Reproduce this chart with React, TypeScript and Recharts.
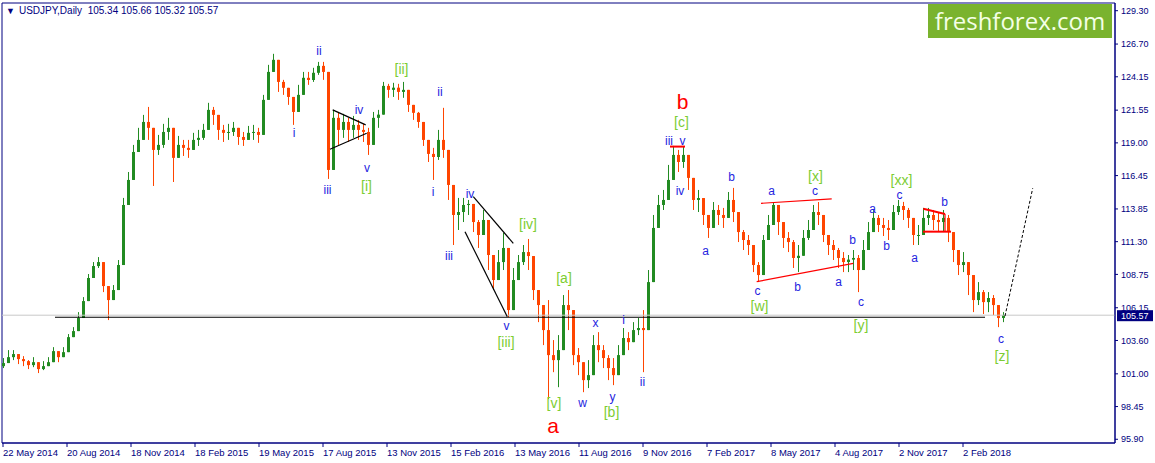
import {
  Bar,
  ComposedChart,
  ReferenceArea,
  ReferenceLine,
  Scatter,
  XAxis,
  YAxis,
} from "recharts";

// one bar = 5 trading days
const DAYS_PER_BAR = 5;
const FIRST_OPEN = 101.6;

const CLOSE = [
  101.84, 102.3, 102.54, 102.15, 101.99, 101.68, 101.91, 101.37, 101.6, 101.91,
  102.77, 102.3, 102.69, 103.86, 104.33, 105.35, 106.67, 108.47, 109.4, 109.71,
  107.84, 106.75, 107.53, 109.48, 114.16, 116.11, 118.29, 119.23, 120.63, 120.17,
  118.45, 118.84, 119.85, 120.17, 117.83, 118.84, 118.61, 118.45, 119.23, 119.39,
  120.01, 121.57, 121.18, 120.01, 119.78, 119.85, 120.17, 119.46, 119.23, 119.78,
  119.85, 119.62, 122.35, 124.53, 125.47, 123.75, 123.29, 122.58, 121.41, 122.74,
  124.07, 123.9, 124.46, 125.0, 124.53, 116.89, 120.95, 120.01, 120.63, 120.01,
  120.4, 120.01, 119.85, 118.84, 120.95, 121.2, 123.44, 123.13, 123.3, 122.97,
  123.13, 121.96, 121.34, 120.63, 119.23, 118.14, 117.9, 119.23, 118.45, 115.72,
  113.38, 113.61, 114.16, 114.24, 112.83, 111.82, 112.99, 110.26, 108.31, 109.71,
  110.81, 105.97, 108.31, 109.71, 110.49, 110.18, 107.53, 106.36, 104.41, 102.46,
  102.07, 102.85, 106.36, 105.97, 102.46, 101.91, 100.51, 100.9, 103.24, 102.85,
  102.23, 101.45, 100.9, 102.46, 103.79, 103.47, 104.41, 104.57, 104.41, 108.15,
  112.37, 114.16, 114.55, 116.11, 118.06, 117.51, 118.06, 116.27, 114.55, 114.7,
  113.38, 112.37, 113.77, 113.38, 113.15, 114.55, 113.61, 112.05, 111.43, 111.04,
  109.48, 108.7, 111.43, 112.6, 114.16, 112.83, 111.59, 111.27, 110.03, 110.2,
  111.59, 112.21, 113.61, 113.38, 111.82, 111.04, 110.65, 110.03, 109.71, 109.9,
  110.03, 109.09, 110.65, 112.05, 113.15, 112.6, 112.37, 112.21, 113.61, 114.08,
  113.77, 113.15, 111.82, 111.82, 113.15, 113.38, 112.99, 112.83, 113.15, 112.05,
  110.65, 109.48, 109.71, 108.7, 106.75, 107.37, 106.59, 106.91, 106.36, 105.35,
  105.57,
];

const HIGH = [
  102.23, 102.85, 102.85, 102.54, 102.38, 102.07, 102.3, 101.84, 101.99, 102.3,
  103.08, 102.77, 103.08, 104.1, 104.64, 105.81, 106.98, 108.78, 109.71, 110.1,
  108.62, 107.69, 107.92, 109.87, 114.71, 116.73, 118.84, 120.17, 121.18, 121.8,
  120.01, 119.62, 120.48, 120.95, 119.23, 119.54, 119.23, 119.23, 119.78, 120.01,
  120.48, 122.12, 121.8, 120.79, 120.4, 120.48, 120.63, 120.17, 119.85, 120.32,
  120.4, 120.17, 122.74, 125.08, 125.94, 124.85, 123.91, 123.29, 122.51, 123.52,
  124.53, 124.53, 124.85, 125.31, 125.31, 124.3, 121.57, 121.41, 121.26, 120.95,
  121.1, 120.79, 120.48, 120.17, 121.41, 121.57, 123.75, 123.6, 123.68, 123.6,
  123.75, 122.97, 121.96, 121.41, 120.63, 119.23, 118.61, 120.01, 121.73, 117.67,
  115.33, 114.71, 114.71, 114.55, 114.16, 112.99, 113.77, 112.37, 109.48, 110.65,
  111.98, 108.31, 109.25, 110.26, 111.04, 111.51, 109.09, 107.53, 106.36, 106.75,
  103.63, 104.02, 107.14, 107.53, 104.41, 103.01, 101.91, 102.07, 104.02, 104.25,
  103.24, 102.46, 102.23, 103.24, 104.57, 104.25, 105.03, 105.35, 105.97, 109.09,
  113.38, 114.94, 115.33, 117.28, 118.76, 118.45, 118.68, 117.67, 115.72, 115.33,
  114.55, 113.38, 114.39, 114.16, 113.93, 115.17, 115.49, 113.38, 112.21, 111.82,
  111.04, 109.71, 111.82, 113.38, 114.36, 114.16, 112.6, 112.05, 111.43, 111.04,
  112.21, 112.99, 114.16, 114.39, 113.38, 111.82, 111.43, 110.81, 110.49, 110.26,
  110.65, 110.26, 111.43, 112.83, 113.77, 113.38, 113.15, 112.99, 114.16, 114.55,
  114.4, 113.93, 112.83, 112.6, 113.93, 113.93, 113.77, 113.61, 113.77, 113.38,
  111.59, 110.49, 110.49, 109.71, 107.92, 108.15, 107.53, 107.37, 107.14, 106.36,
  105.81,
];

const LOW = [
  101.45, 101.91, 102.07, 101.76, 101.6, 101.37, 101.52, 101.06, 101.29, 101.6,
  102.3, 101.91, 102.3, 103.24, 103.94, 104.88, 106.2, 107.69, 108.93, 109.25,
  107.37, 105.19, 106.75, 108.15, 112.37, 115.17, 117.05, 118.29, 119.85, 119.23,
  115.64, 118.06, 118.61, 119.23, 115.95, 117.83, 117.98, 117.83, 118.45, 118.76,
  119.23, 120.63, 120.4, 119.23, 119.07, 119.23, 119.54, 118.84, 118.76, 119.23,
  119.23, 119.0, 120.4, 123.52, 124.69, 122.97, 122.74, 121.96, 120.4, 121.96,
  123.29, 123.52, 123.75, 124.3, 123.91, 116.19, 118.45, 118.84, 119.39, 119.07,
  119.39, 119.23, 119.07, 118.06, 119.62, 120.17, 121.57, 122.51, 122.58, 122.35,
  122.51, 121.41, 120.79, 120.17, 118.76, 117.51, 116.11, 117.67, 117.83, 114.55,
  111.04, 112.21, 112.83, 113.38, 112.05, 110.81, 112.05, 109.09, 107.53, 108.93,
  109.09, 105.42, 107.37, 108.7, 109.48, 109.09, 106.75, 105.03, 103.24, 99.03,
  101.13, 99.96, 103.63, 104.41, 101.68, 100.9, 99.57, 99.89, 101.68, 101.91,
  101.45, 100.51, 100.12, 101.45, 103.01, 102.85, 103.63, 104.02, 101.13, 105.97,
  110.26, 112.99, 113.77, 114.94, 117.05, 116.73, 117.05, 115.33, 113.77, 113.61,
  112.6, 111.59, 112.6, 112.6, 112.37, 113.61, 112.83, 111.27, 110.65, 110.26,
  108.93, 108.15, 109.48, 111.59, 112.99, 111.82, 110.81, 110.49, 109.25, 108.93,
  110.26, 111.43, 112.6, 112.6, 111.27, 110.26, 109.87, 109.25, 108.93, 108.93,
  109.09, 107.37, 109.48, 111.04, 112.21, 112.05, 111.74, 111.43, 112.83, 113.38,
  112.99, 112.37, 111.04, 111.04, 112.21, 112.6, 112.21, 112.05, 112.05, 111.27,
  109.71, 108.7, 108.93, 107.14, 105.81, 106.36, 105.66, 105.81, 105.58, 104.64,
  105.03,
];

const TICK_DAYS = [0, 64, 128, 192, 256, 320, 384, 448, 512, 576, 640, 704, 768, 832, 896, 960];
const TICK_LABELS = [
  "22 May 2014", "20 Aug 2014", "18 Nov 2014", "18 Feb 2015", "19 May 2015", "17 Aug 2015",
  "13 Nov 2015", "15 Feb 2016", "13 May 2016", "11 Aug 2016", "9 Nov 2016", "7 Feb 2017",
  "8 May 2017", "4 Aug 2017", "2 Nov 2017", "2 Feb 2018",
];
const PRICE_TICKS = [
  95.9, 98.45, 101.0, 103.6, 106.15, 108.75, 111.3, 113.85, 116.45, 119.0, 121.55, 124.15,
  126.7, 129.3,
];
const LAST_PRICE = 105.57;
const TITLE = "USDJPY,Daily  105.34 105.66 105.32 105.57";

// wave marks: [day, price, text]
const BLUE_MARKS: [number, number, string][] = [
  [291, 119.77, "i"], [316, 126.16, "ii"], [324.5, 115.33, "iii"], [356, 121.56, "iv"],
  [364, 117.04, "v"], [430, 115.17, "i"], [437, 122.96, "ii"], [446, 110.18, "iii"],
  [467, 115.01, "iv"], [503.5, 104.73, "v"], [592.5, 105.0, "x"], [579.5, 98.73, "w"],
  [609.5, 99.19, "y"], [620.5, 105.19, "i"], [639.5, 100.4, "ii"], [666, 119.14, "iii"],
  [679.5, 119.14, "v"], [677, 115.25, "iv"], [702.5, 110.57, "a"], [728.5, 116.34, "b"],
  [754.5, 107.49, "c"], [768.5, 115.21, "a"], [794.5, 107.8, "b"], [812, 115.25, "c"],
  [835.5, 108.19, "a"], [849.5, 111.43, "b"], [858, 106.56, "c"], [869.5, 113.88, "a"],
  [883.5, 111.0, "b"], [896.5, 114.93, "c"], [911.5, 110.03, "a"], [941.5, 114.39, "b"],
  [998, 103.71, "c"],
];
const GREEN_MARKS: [number, number, string][] = [
  [363.5, 115.64, "[i]"], [398.5, 124.76, "[ii]"], [503, 103.48, "[iii]"], [525, 112.68, "[iv]"],
  [551, 98.72, "[v]"], [561, 108.47, "[a]"], [608.5, 98.06, "[b]"], [678.5, 120.59, "[c]"],
  [756.5, 106.25, "[w]"], [812.5, 116.42, "[x]"], [858, 104.8, "[y]"], [898.5, 116.1, "[xx]"],
  [999, 102.39, "[z]"],
];
const RED_MARKS: [number, number, string][] = [
  [550, 97.01, "a"], [679.5, 122.22, "b"],
];

// drawn lines: [day1, price1, day2, price2]
const BLACK_LINES: [number, number, number, number][] = [
  [52, 105.41, 982, 105.41],
  [329.7, 121.57, 362.7, 120.4],
  [327, 118.5, 363.7, 119.75],
  [470.3, 114.81, 510.3, 111.17],
  [462, 112.08, 504.3, 105.45],
];
const RED_LINES: [number, number, number, number, number][] = [
  [667, 118.71, 682, 118.71, 2],
  [758, 114.29, 828.7, 114.63, 1.2],
  [753.7, 108.18, 850.3, 109.61, 1.2],
  [920.3, 113.86, 942, 113.45, 2],
  [942, 113.45, 942, 112.08, 1.2],
  [920, 112.08, 948, 112.08, 2],
];
const PROJECTION: [number, number, number, number] = [1002, 105.5, 1029.7, 115.46];

const NAVY = "#000080";
const UP = "#228B22";
const DOWN = "#FF4500";
const X_DOMAIN = [-1, 1112];
const Y_DOMAIN = [95.61, 129.9];

const bars = CLOSE.map((close, i) => {
  const open = i === 0 ? FIRST_OPEN : CLOSE[i - 1];
  return {
    d: i * DAYS_PER_BAR,
    open,
    close,
    high: Math.max(HIGH[i], open, close),
    low: Math.min(LOW[i], open, close),
  };
});

const toMarks = (rows: [number, number, string][]) => rows.map(([d, p, t]) => ({ d, p, t }));

const Candle = (props: any) => {
  const { x, y, width, height, payload } = props;
  if (!payload || !Number.isFinite(y) || !Number.isFinite(x)) return null;
  const span = payload.high - payload.low;
  const k = span > 0 ? height / span : 0;
  const at = (v: number) => y + (payload.high - v) * k;
  const color = payload.close >= payload.open ? UP : DOWN;
  const cx = Math.round(x + width / 2) + 0.5;
  const top = at(Math.max(payload.open, payload.close));
  const bottom = at(Math.min(payload.open, payload.close));
  return (
    <g>
      <line x1={cx} x2={cx} y1={y} y2={y + height} stroke={color} />
      <rect x={cx - 1.5} y={top} width={3} height={Math.max(1, bottom - top)} fill={color} />
    </g>
  );
};

const markShape = (fill: string, size: number) => (props: any) => (
  <text
    x={props.cx}
    y={props.cy}
    textAnchor="middle"
    dominantBaseline="central"
    fill={fill}
    fontSize={size}
  >
    {props.payload.t}
  </text>
);

const DateTick = ({ x, y, payload }: any) => (
  <text x={x} y={y} dy="0.71em" textAnchor="start" fill={NAVY} fontSize={9.5}>
    {TICK_LABELS[TICK_DAYS.indexOf(payload.value)]}
  </text>
);

const PriceTag = ({ viewBox }: any) => {
  if (!viewBox) return null;
  const right = viewBox.x + viewBox.width;
  return (
    <g>
      <rect x={right + 2} y={viewBox.y - 5} width={36} height={11} fill={NAVY} />
      <text x={right + 6} y={viewBox.y + 0.5} dominantBaseline="central" fill="#fff" fontSize={9}>
        {LAST_PRICE.toFixed(2)}
      </text>
    </g>
  );
};

export default function App() {
  return (
    <div
      style={{
        position: "absolute",
        left: 0,
        top: 0,
        width: 1155,
        height: 463,
        background: "#fff",
        overflow: "hidden",
        fontFamily: '"Liberation Sans", Arial, sans-serif',
      }}
    >
      <ComposedChart width={1155} height={463} data={bars} margin={{ top: 3, right: 0, bottom: 0, left: 2 }}>
        <XAxis
          dataKey="d"
          type="number"
          domain={X_DOMAIN}
          allowDataOverflow
          ticks={TICK_DAYS}
          interval={0}
          height={20}
          tickSize={4}
          tickMargin={2}
          axisLine={{ stroke: NAVY }}
          tickLine={{ stroke: NAVY }}
          tick={(p: any) => <DateTick {...p} />}
        />
        <YAxis
          orientation="right"
          type="number"
          domain={Y_DOMAIN}
          allowDataOverflow
          ticks={PRICE_TICKS}
          interval={0}
          width={40}
          tickSize={3}
          tickMargin={3}
          axisLine={{ stroke: NAVY }}
          tickLine={{ stroke: NAVY }}
          tick={{ fill: NAVY, fontSize: 9 }}
          tickFormatter={(v: number) => v.toFixed(2)}
        />
        <ReferenceArea
          x1={X_DOMAIN[0]}
          x2={X_DOMAIN[1]}
          y1={Y_DOMAIN[0]}
          y2={Y_DOMAIN[1]}
          fill="none"
          stroke={NAVY}
          ifOverflow="visible"
        />
        <ReferenceLine y={LAST_PRICE} stroke="#c8c8c8" label={(p: any) => <PriceTag {...p} />} />
        {BLACK_LINES.map(([d1, p1, d2, p2], i) => (
          <ReferenceLine
            key={`k${i}`}
            segment={[{ x: d1, y: p1 }, { x: d2, y: p2 }]}
            stroke="#000"
            strokeWidth={1.2}
          />
        ))}
        <Bar
          dataKey={(b: any) => [b.low, b.high]}
          barSize={3}
          shape={(p: any) => <Candle {...p} />}
          isAnimationActive={false}
        />
        {RED_LINES.map(([d1, p1, d2, p2, w], i) => (
          <ReferenceLine
            key={`r${i}`}
            segment={[{ x: d1, y: p1 }, { x: d2, y: p2 }]}
            stroke="#ff0000"
            strokeWidth={w}
          />
        ))}
        <ReferenceLine
          segment={[{ x: PROJECTION[0], y: PROJECTION[1] }, { x: PROJECTION[2], y: PROJECTION[3] }]}
          stroke="#000"
          strokeDasharray="3 2"
        />
        <Scatter data={toMarks(BLUE_MARKS)} dataKey="p" shape={markShape("#2424e0", 12)} isAnimationActive={false} />
        <Scatter data={toMarks(GREEN_MARKS)} dataKey="p" shape={markShape("#7ccd32", 14)} isAnimationActive={false} />
        <Scatter data={toMarks(RED_MARKS)} dataKey="p" shape={markShape("#ff0000", 21)} isAnimationActive={false} />
      </ComposedChart>

      <div
        style={{
          position: "absolute",
          left: 6,
          top: 4,
          color: NAVY,
          fontSize: 10,
          lineHeight: "14px",
          whiteSpace: "pre",
        }}
      >
        <span style={{ fontSize: 9, marginRight: 4 }}>▼</span>
        {TITLE}
      </div>
      <div
        style={{
          position: "absolute",
          left: 928,
          top: 4,
          width: 184,
          height: 34,
          background: "#7ab32e",
          color: "#f4ffe6",
          fontFamily: '"Open Sans", sans-serif',
          fontSize: 24,
          lineHeight: "33px",
          textAlign: "center",
        }}
      >
        freshforex.com
      </div>
    </div>
  );
}
